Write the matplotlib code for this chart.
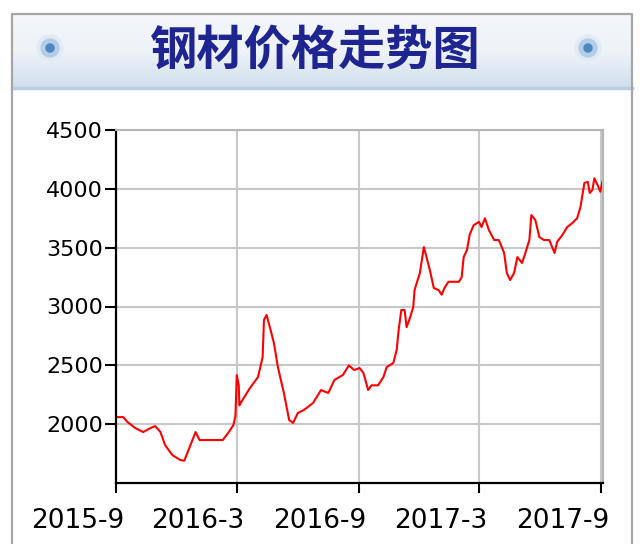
import matplotlib
matplotlib.use("Agg")
import matplotlib.pyplot as plt
import matplotlib.transforms as mtransforms
import numpy as np
import pandas as pd
from matplotlib.patches import Circle
from matplotlib.colors import LinearSegmentedColormap

# steel price series
dates = [
    "2015-09-01", "2015-09-12", "2015-09-18", "2015-09-30", "2015-10-12", "2015-10-23",
    "2015-10-30", "2015-11-07", "2015-11-14", "2015-11-25", "2015-12-07", "2015-12-13",
    "2015-12-21", "2015-12-30", "2016-01-05", "2016-01-14", "2016-01-29", "2016-02-09",
    "2016-02-18", "2016-02-25", "2016-02-28", "2016-03-01", "2016-03-04", "2016-03-05",
    "2016-03-07", "2016-03-20", "2016-04-02", "2016-04-09", "2016-04-11", "2016-04-15",
    "2016-04-21", "2016-04-26", "2016-05-02", "2016-05-11", "2016-05-19", "2016-05-25",
    "2016-06-01", "2016-06-10", "2016-06-24", "2016-07-06", "2016-07-17", "2016-07-26",
    "2016-08-08", "2016-08-17", "2016-08-25", "2016-09-02", "2016-09-08", "2016-09-15",
    "2016-09-20", "2016-09-30", "2016-10-08", "2016-10-13", "2016-10-23", "2016-10-28",
    "2016-10-31", "2016-11-04", "2016-11-09", "2016-11-12", "2016-11-16", "2016-11-22",
    "2016-11-24", "2016-12-02", "2016-12-08", "2016-12-12", "2016-12-17", "2016-12-23",
    "2016-12-30", "2017-01-04", "2017-01-08", "2017-01-14", "2017-01-30", "2017-02-03",
    "2017-02-06", "2017-02-11", "2017-02-15", "2017-02-21", "2017-03-01", "2017-03-05",
    "2017-03-10", "2017-03-16", "2017-03-24", "2017-03-31", "2017-04-08", "2017-04-12",
    "2017-04-17", "2017-04-23", "2017-04-28", "2017-05-05", "2017-05-10", "2017-05-16",
    "2017-05-19", "2017-05-25", "2017-05-31", "2017-06-07", "2017-06-15", "2017-06-23",
    "2017-06-27", "2017-07-05", "2017-07-12", "2017-07-20", "2017-07-27", "2017-08-01",
    "2017-08-07", "2017-08-12", "2017-08-15", "2017-08-19", "2017-08-22", "2017-08-27",
    "2017-08-31", "2017-09-03",
]
prices = [
    2060, 2060, 2020, 1967, 1933, 1967,
    1984, 1933, 1822, 1737, 1695, 1690,
    1805, 1933, 1865, 1865, 1865, 1865,
    1933, 1993, 2070, 2417, 2330, 2160,
    2180, 2300, 2400, 2570, 2885, 2928,
    2800, 2690, 2485, 2265, 2035, 2010,
    2095, 2120, 2180, 2290, 2265, 2375,
    2418, 2500, 2460, 2477, 2435, 2290,
    2330, 2330, 2400, 2485, 2520, 2630,
    2800, 2970, 2970, 2825, 2885, 2995,
    3140, 3285, 3505, 3420, 3310, 3157,
    3140, 3100, 3157, 3210, 3210, 3250,
    3420, 3480, 3610, 3690, 3720, 3675,
    3750, 3650, 3565, 3565, 3455, 3285,
    3225, 3285, 3420, 3370, 3455, 3565,
    3777, 3735, 3590, 3565, 3565, 3455,
    3550, 3610, 3675, 3710, 3750, 3845,
    4050, 4060, 3965, 3990, 4090, 4030,
    3975, 4060,
]
tick_dates = ["2015-09-01", "2016-03-01", "2016-09-01", "2017-03-01", "2017-09-01"]
tick_labels = ["2015-9", "2016-3", "2016-9", "2017-3", "2017-9"]
y_ticks = [2000, 2500, 3000, 3500, 4000, 4500]
title = "钢材价格走势图"

plt.rcParams["font.family"] = ["DejaVu Sans"]

fig = plt.figure(figsize=(6.4, 5.44), dpi=100)

# background panel, drawn in pixel units
bg = fig.add_axes([0, 0, 1, 1], zorder=0)
banner_cmap = LinearSegmentedColormap.from_list("banner", ["#f4f6f9", "#eef3f8", "#d0dfee"])
grad = np.linspace(0, 1, 100).reshape(-1, 1)
bg.imshow(grad, extent=[12, 632, 88, 14], cmap=banner_cmap, aspect="auto")
bg.plot([12, 632], [88, 88], color="#b9cde3", lw=2.5)
bg.plot([12, 12, 632, 632], [544, 14, 14, 544], color="#a6a6a6", lw=1.6)
for cx in [50, 588]:
    bg.add_patch(Circle((cx, 48), 13, color="#e2ebf5"))
    bg.add_patch(Circle((cx, 48), 9, color="#b3cde7"))
    bg.add_patch(Circle((cx, 48), 4, color="#4f86c2"))
bg.text(315, 51, title, ha="center", va="center", fontsize=34, fontweight="bold",
        color="#1f2590", family=["Noto Sans CJK SC", "DejaVu Sans"])
bg.set_xlim(0, 640)
bg.set_ylim(544, 0)
bg.axis("off")

# price chart
ax = fig.add_axes([116 / 640, 1 - 483 / 544, (603 - 116) / 640, (483 - 130) / 544], zorder=2)
ax.plot(pd.to_datetime(dates), prices, color="#ff0000", lw=1.5)
ax.set_xlim(pd.Timestamp("2015-09-01"), pd.Timestamp("2017-09-04"))
ax.set_ylim(1500, 4500)
ax.set_xticks(pd.to_datetime(tick_dates))
ax.set_xticklabels(tick_labels, fontsize=19)
ax.set_yticks(y_ticks)
ax.set_yticklabels([str(v) for v in y_ticks], fontsize=16)
ax.grid(True, color="#c8c8c8", lw=1.5)
ax.set_axisbelow(True)
ax.tick_params(axis="x", direction="out", length=7, width=1.5, pad=11)
ax.tick_params(axis="y", direction="out", length=8, width=1.5, pad=1.5)
for side in ["left", "bottom"]:
    ax.spines[side].set_color("black")
    ax.spines[side].set_linewidth(1.6)
for side in ["top", "right"]:
    ax.spines[side].set_color("#b5b5b5")
    ax.spines[side].set_linewidth(1.5)

# date labels sit just left of their ticks, ending a few pixels past them
shift = mtransforms.ScaledTranslation(8 / 100, 0, fig.dpi_scale_trans)
for lbl in ax.get_xticklabels():
    lbl.set_horizontalalignment("right")
    lbl.set_transform(lbl.get_transform() + shift)

fig.savefig("out.png", dpi=100)
